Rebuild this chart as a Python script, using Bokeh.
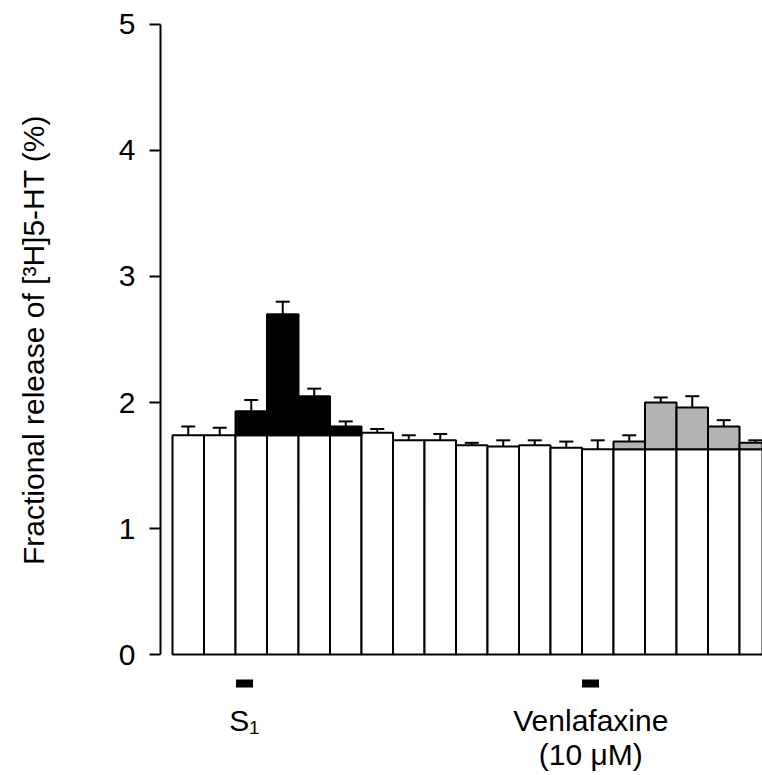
from bokeh.plotting import figure
from bokeh.models import ColumnDataSource, Range1d, Whisker, TeeHead, FixedTicker, LinearAxis
from bokeh.embed import file_html
from bokeh.resources import INLINE

# ---- data ----
fraction_number = list(range(1, 20))
baseline_release = [1.74, 1.74, 1.74, 1.74, 1.74, 1.74, 1.76, 1.70, 1.70, 1.66,
                    1.65, 1.66, 1.64, 1.63, 1.63, 1.63, 1.63, 1.63, 1.63]
total_release = [1.74, 1.74, 1.93, 2.70, 2.05, 1.81, 1.76, 1.70, 1.70, 1.66,
                 1.65, 1.66, 1.64, 1.63, 1.69, 2.00, 1.96, 1.81, 1.68]
sem = [0.07, 0.06, 0.09, 0.10, 0.06, 0.04, 0.03, 0.04, 0.05, 0.02,
       0.05, 0.04, 0.05, 0.07, 0.05, 0.04, 0.09, 0.05, 0.02]
evoked_group = ["none", "none", "S1", "S1", "S1", "S1", "none", "none", "none", "none",
                "none", "none", "none", "none", "venla", "venla", "venla", "venla", "venla"]
stim_fraction = [3, 14]          # fraction at which each stimulus was applied
stim_labels = ["S₁", "Venlafaxine\n(10 μM)"]
y_ticks = [0, 1, 2, 3, 4, 5]
y_label = "Fractional release of [³H]5-HT (%)"

FONT = "Liberation Sans"
group_color = {"S1": "black", "venla": "#b3b3b3"}

p = figure(width=762, height=775, output_backend="svg", toolbar_location=None,
           x_axis_location=None, min_border_left=160, min_border_right=0,
           min_border_top=0, min_border_bottom=96)
p.x_range = Range1d(0.119, 19.23)
p.y_range = Range1d(-0.198, 5.190)
p.outline_line_color = None
p.grid.visible = False
p.background_fill_color = "white"
p.border_fill_color = "white"

# white basal bars
base_src = ColumnDataSource(dict(x=fraction_number, top=baseline_release))
p.vbar(x="x", top="top", bottom=0, width=1.0, source=base_src,
       fill_color="white", line_color="black", line_width=2)

# evoked parts
ex, eb, et, ec = [], [], [], []
for x, b, t, g in zip(fraction_number, baseline_release, total_release, evoked_group):
    if g != "none":
        ex.append(x); eb.append(b); et.append(t); ec.append(group_color[g])
ev_src = ColumnDataSource(dict(x=ex, bottom=eb, top=et, color=ec))
p.vbar(x="x", top="top", bottom="bottom", width=1.0, source=ev_src,
       fill_color="color", line_color="black", line_width=2)

# error bars
err_src = ColumnDataSource(dict(x=fraction_number, lower=total_release,
                                upper=[t + s for t, s in zip(total_release, sem)]))
p.add_layout(Whisker(base="x", lower="lower", upper="upper", source=err_src,
                     dimension="height", line_color="black", line_width=2,
                     upper_head=TeeHead(size=14, line_width=2, line_color="black"),
                     lower_head=None))

# bottom axis: stimulus markers (thick ticks) and their labels
stim_ticks = [s - 0.22 for s in stim_fraction]
xax = LinearAxis(ticker=FixedTicker(ticks=stim_ticks),
                 major_label_overrides={t: l for t, l in zip(stim_ticks, stim_labels)})
xax.axis_line_color = None
xax.major_tick_line_width = 17
xax.major_tick_line_color = "black"
xax.major_tick_out = 8
xax.major_tick_in = 0
xax.minor_tick_out = 0
xax.minor_tick_in = 0
xax.major_label_standoff = 16
xax.major_label_text_font = FONT
xax.major_label_text_font_size = "30px"
xax.major_label_text_color = "black"
xax.major_label_text_line_height = 1.05
p.add_layout(xax, "below")

# y axis
ax = p.yaxis[0]
ax.ticker = FixedTicker(ticks=y_ticks)
ax.bounds = (0, 5)
ax.axis_line_width = 2
ax.major_tick_line_width = 2
ax.major_tick_out = 11
ax.major_tick_in = 0
ax.minor_tick_out = 0
ax.minor_tick_in = 0
ax.major_label_standoff = 14
ax.major_label_text_font = FONT
ax.major_label_text_font_size = "30px"
ax.major_label_text_color = "black"
ax.axis_label = y_label
ax.axis_label_text_font = FONT
ax.axis_label_text_font_size = "30px"
ax.axis_label_text_font_style = "normal"
ax.axis_label_text_color = "black"
ax.axis_label_standoff = 66

open("out.html", "w").write(file_html(p, INLINE))
